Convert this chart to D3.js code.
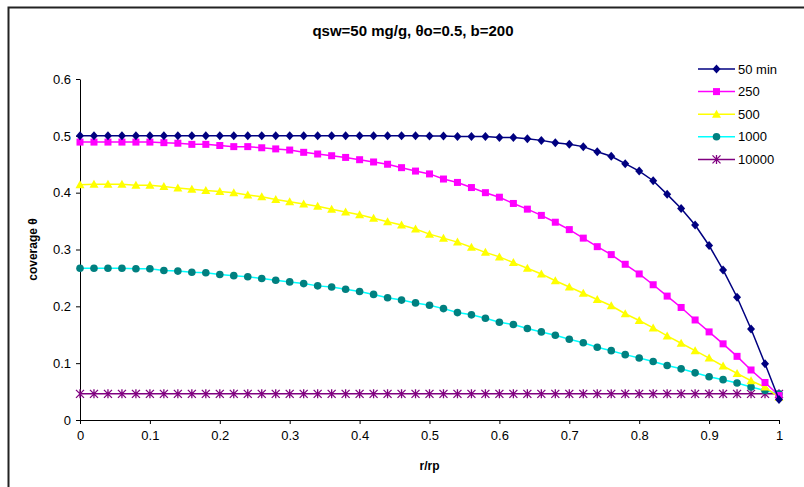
<!DOCTYPE html>
<html>
<head>
<meta charset="utf-8">
<script src="https://cdn.jsdelivr.net/npm/d3@7"></script>
<style>
  body { margin: 0; background: #fff; }
  svg { display: block; }
</style>
</head>
<body>
<div id="chart-area"></div>
<script>
// r/rp positions, 0 to 1 in steps of 0.02
const rr = [0, 0.02, 0.04, 0.06, 0.08, 0.1, 0.12, 0.14, 0.16, 0.18,
  0.2, 0.22, 0.24, 0.26, 0.28, 0.3, 0.32, 0.34, 0.36, 0.38,
  0.4, 0.42, 0.44, 0.46, 0.48, 0.5, 0.52, 0.54, 0.56, 0.58,
  0.6, 0.62, 0.64, 0.66, 0.68, 0.7, 0.72, 0.74, 0.76, 0.78,
  0.8, 0.82, 0.84, 0.86, 0.88, 0.9, 0.92, 0.94, 0.96, 0.98, 1];

const t50 = [0.5, 0.5, 0.5, 0.5, 0.5, 0.5, 0.5, 0.5, 0.5, 0.5,
  0.5, 0.5, 0.5, 0.5, 0.5, 0.5, 0.5, 0.5, 0.5, 0.5,
  0.5, 0.5, 0.5, 0.5, 0.5, 0.4995, 0.4995, 0.499, 0.499, 0.499,
  0.497, 0.497, 0.495, 0.492, 0.488, 0.485, 0.481, 0.472, 0.464, 0.451,
  0.438, 0.421, 0.397, 0.372, 0.343, 0.307, 0.264, 0.216, 0.160, 0.099, 0.036];

const t250 = [0.489, 0.489, 0.489, 0.489, 0.489, 0.489, 0.488, 0.487, 0.485, 0.485,
  0.483, 0.481, 0.481, 0.479, 0.477, 0.475, 0.471, 0.468, 0.465, 0.462,
  0.458, 0.454, 0.450, 0.444, 0.438, 0.433, 0.424, 0.418, 0.409, 0.400,
  0.392, 0.381, 0.371, 0.360, 0.348, 0.335, 0.320, 0.305, 0.291, 0.274,
  0.257, 0.238, 0.218, 0.198, 0.176, 0.155, 0.134, 0.112, 0.088, 0.066, 0.043];

const t500 = [0.414, 0.415, 0.415, 0.415, 0.413, 0.413, 0.411, 0.408, 0.406, 0.404,
  0.402, 0.400, 0.396, 0.393, 0.388, 0.384, 0.380, 0.376, 0.371, 0.366,
  0.361, 0.355, 0.349, 0.343, 0.336, 0.327, 0.320, 0.313, 0.304, 0.295,
  0.287, 0.277, 0.267, 0.257, 0.245, 0.234, 0.223, 0.212, 0.201, 0.187,
  0.175, 0.162, 0.148, 0.135, 0.122, 0.109, 0.095, 0.082, 0.069, 0.058, 0.040];

const t1000 = [0.267, 0.267, 0.267, 0.267, 0.266, 0.266, 0.263, 0.262, 0.260, 0.259,
  0.256, 0.254, 0.252, 0.249, 0.246, 0.243, 0.240, 0.236, 0.234, 0.230,
  0.226, 0.221, 0.215, 0.211, 0.206, 0.202, 0.196, 0.189, 0.185, 0.179,
  0.172, 0.168, 0.161, 0.155, 0.149, 0.142, 0.136, 0.128, 0.122, 0.115,
  0.109, 0.103, 0.096, 0.090, 0.083, 0.076, 0.071, 0.065, 0.058, 0.052, 0.046];

const t10000 = rr.map(() => 0.046);

const seriesNames = ["50 min", "250", "500", "1000", "10000"];
const xTicks = [0, 0.1, 0.2, 0.3, 0.4, 0.5, 0.6, 0.7, 0.8, 0.9, 1];
const yTicks = [0, 0.1, 0.2, 0.3, 0.4, 0.5, 0.6];

const series = [
  { name: seriesNames[0], values: t50, line: "#000080", fill: "#000080", shape: "diamond" },
  { name: seriesNames[1], values: t250, line: "#ff00ff", fill: "#ff00ff", shape: "square" },
  { name: seriesNames[2], values: t500, line: "#ffff00", fill: "#ffff00", shape: "triangle" },
  { name: seriesNames[3], values: t1000, line: "#00ffff", fill: "#008080", shape: "circle" },
  { name: seriesNames[4], values: t10000, line: "#800080", fill: "#800080", shape: "star" }
];

const W = 804, H = 487;
const margin = { left: 80, right: 25, top: 79, bottom: 67 };

let svg = d3.select('#chart-area')
  .append('svg')
  .attr('width', W)
  .attr('height', H)
  .style("font-family", "Arial, 'Liberation Sans', sans-serif");

// chart frame, runs off the right and bottom edge
svg.append('rect')
  .attr('x', 8.5).attr('y', 7.5)
  .attr('width', W + 20).attr('height', H + 20)
  .attr('fill', '#fff')
  .attr('stroke', '#222')
  .attr('stroke-width', 2);

const x = d3.scaleLinear().domain([0, 1]).range([margin.left, W - margin.right]);
const y = d3.scaleLinear().domain([0, 0.6]).range([H - margin.bottom, margin.top]);

svg.append('text')
  .attr('x', 413).attr('y', 36)
  .attr('text-anchor', 'middle')
  .attr('font-size', 15).attr('font-weight', 'bold')
  .text('qsw=50 mg/g, θo=0.5, b=200');

// axes
const xAxis = svg.append('g')
  .attr('transform', `translate(0,${y(0)})`)
  .call(d3.axisBottom(x).tickValues(xTicks).tickSize(4).tickSizeOuter(0).tickPadding(7).tickFormat(d3.format('')));
const yAxis = svg.append('g')
  .attr('transform', `translate(${x(0)},0)`)
  .call(d3.axisLeft(y).tickValues(yTicks).tickSize(4).tickSizeOuter(0).tickPadding(5).tickFormat(d3.format('')));

[xAxis, yAxis].forEach(a => {
  a.select('.domain').attr('stroke', '#000');
  a.selectAll('.tick line').attr('stroke', '#000');
  a.selectAll('.tick text').attr('font-size', 13).attr('fill', '#000')
    .attr('font-family', "Arial, 'Liberation Sans', sans-serif");
});

svg.append('text')
  .attr('x', x(0.5)).attr('y', 470)
  .attr('text-anchor', 'middle')
  .attr('font-size', 12).attr('font-weight', 'bold')
  .text('r/rp');

svg.append('text')
  .attr('transform', `translate(37,${y(0.3)}) rotate(-90)`)
  .attr('text-anchor', 'middle')
  .attr('font-size', 12).attr('font-weight', 'bold')
  .text('coverage θ');

function drawMarker(sel, s) {
  if (s.shape === 'diamond') {
    sel.append('path').attr('d', 'M0,-4.5L4,0L0,4.5L-4,0Z').attr('fill', s.fill);
  } else if (s.shape === 'square') {
    sel.append('rect').attr('x', -3.5).attr('y', -3.5).attr('width', 7).attr('height', 7).attr('fill', s.fill);
  } else if (s.shape === 'triangle') {
    sel.append('path').attr('d', 'M0,-4.5L4.5,3.5L-4.5,3.5Z').attr('fill', s.fill);
  } else if (s.shape === 'circle') {
    sel.append('circle').attr('r', 3.8).attr('fill', s.fill);
  } else {
    sel.append('path').attr('d', 'M-4,-4L4,4M-4,4L4,-4M0,-4.5L0,4.5')
      .attr('stroke', s.fill).attr('stroke-width', 1.3).attr('fill', 'none');
  }
}

const line = d3.line().x((d, i) => x(rr[i])).y(d => y(d));

// draw last series first so 50 min ends up on top
series.slice().reverse().forEach(s => {
  const g = svg.append('g');
  g.append('path')
    .datum(s.values)
    .attr('fill', 'none')
    .attr('stroke', s.line)
    .attr('stroke-width', 1.5)
    .attr('d', line);
  g.selectAll('g.mk')
    .data(s.values)
    .join('g')
    .attr('class', 'mk')
    .attr('transform', (d, i) => `translate(${x(rr[i])},${y(d)})`)
    .each(function() { drawMarker(d3.select(this), s); });
});

// legend
const legend = svg.append('g').attr('transform', 'translate(698,69)');
series.forEach((s, i) => {
  const row = legend.append('g').attr('transform', `translate(0,${i * 22.6})`);
  row.append('line').attr('x1', 0).attr('x2', 37).attr('stroke', s.line).attr('stroke-width', 1.5);
  drawMarker(row.append('g').attr('transform', 'translate(18.5,0)'), s);
  row.append('text').attr('x', 40).attr('y', 4.5)
    .attr('font-size', 13)
    .text(s.name);
});
</script>
</body>
</html>
